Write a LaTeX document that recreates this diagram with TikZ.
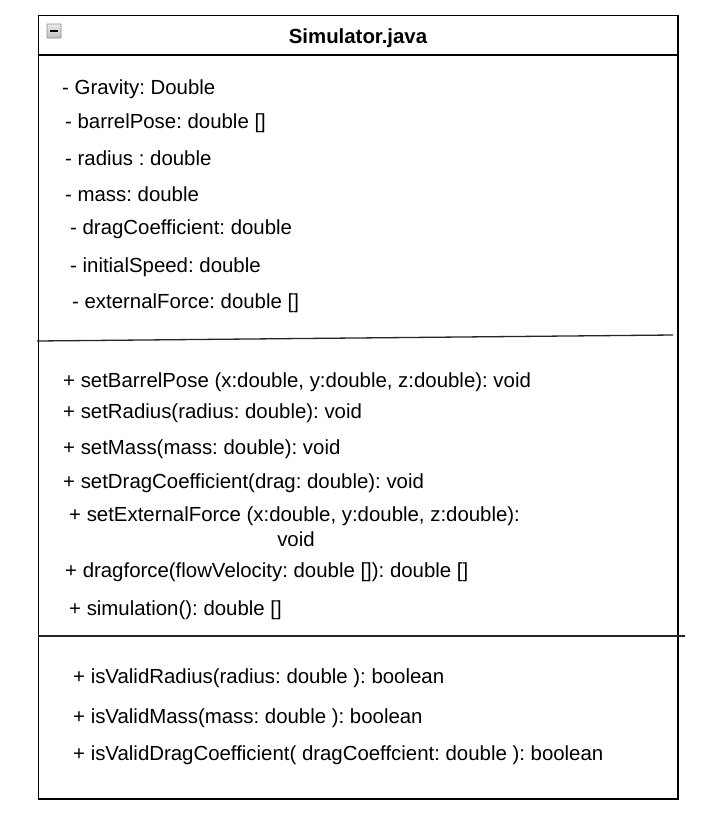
\documentclass[tikz,border=0pt]{standalone}
\usepackage{fontspec}
\setmainfont{Liberation Sans}
\frenchspacing
\begin{document}
\begin{tikzpicture}[x=1pt,y=-1pt,
  txt/.style={anchor=west,inner sep=0pt,yshift=-1.5pt,font=\fontsize{20.4}{23}\selectfont},
  boxline/.style={line width=1.4pt,draw=black},
  sepline/.style={line width=1.3pt,draw=black!85}]
\useasboundingbox[fill=white] (0,0) rectangle (718,820);
% class box
\draw[boxline] (38.5,15.5) rectangle (678,799);
\draw[boxline] (38.5,55) -- (678,55);
% collapse icon
\node[draw=black!45,top color=black!8,bottom color=black!25,line width=0.8pt,minimum size=14pt,inner sep=0pt,rounded corners=0.5pt] (icon) at (54,31) {};
\draw[line width=2.2pt] ([xshift=3pt]icon.west) -- ([xshift=-3pt]icon.east);
\node[inner sep=0pt,yshift=-1pt,font=\fontsize{20.4}{23}\selectfont\bfseries] (title) at (358,37) {Simulator.java};
% attributes
\node[txt] (a1) at (62,88) {- Gravity: Double};
\node[txt] (a2) at (65,122) {- barrelPose: double []};
\node[txt] (a3) at (65,157) {- radius : double};
\node[txt] (a4) at (65,193) {- mass: double};
\node[txt] (a5) at (70,228) {- dragCoefficient: double};
\node[txt] (a6) at (70,266) {- initialSpeed: double};
\node[txt] (a7) at (72,302) {- externalForce: double []};
% separator 1
\coordinate (s1a) at (37,341);
\coordinate (s1b) at (673,335);
\draw[sepline] (s1a) -- (s1b);
% methods
\node[txt] (m1) at (63,381) {+ setBarrelPose (x:double, y:double, z:double): void};
\node[txt] (m2) at (63,412) {+ setRadius(radius: double): void};
\node[txt] (m3) at (63,448) {+ setMass(mass: double): void};
\node[txt] (m4) at (63,482) {+ setDragCoefficient(drag: double): void};
\node[txt] (m5) at (69,515) {+ setExternalForce (x:double, y:double, z:double):};
\node[inner sep=0pt,yshift=-1.5pt,font=\fontsize{20.4}{23}\selectfont] (m5b) at (296,538) {void};
\node[txt] (m6) at (65,571) {+ dragforce(flowVelocity: double []): double []};
\node[txt] (m7) at (69,609) {+ simulation(): double []};
% separator 2
\coordinate (s2a) at (38,636);
\coordinate (s2b) at (685,636);
\draw[sepline] (s2a) -- (s2b);
% static methods
\node[txt] (v1) at (73,677) {+ isValidRadius(radius: double ): boolean};
\node[txt] (v2) at (73,717) {+ isValidMass(mass: double ): boolean};
\node[txt] (v3) at (73,754) {+ isValidDragCoefficient( dragCoeffcient: double ): boolean};
\end{tikzpicture}
\end{document}
